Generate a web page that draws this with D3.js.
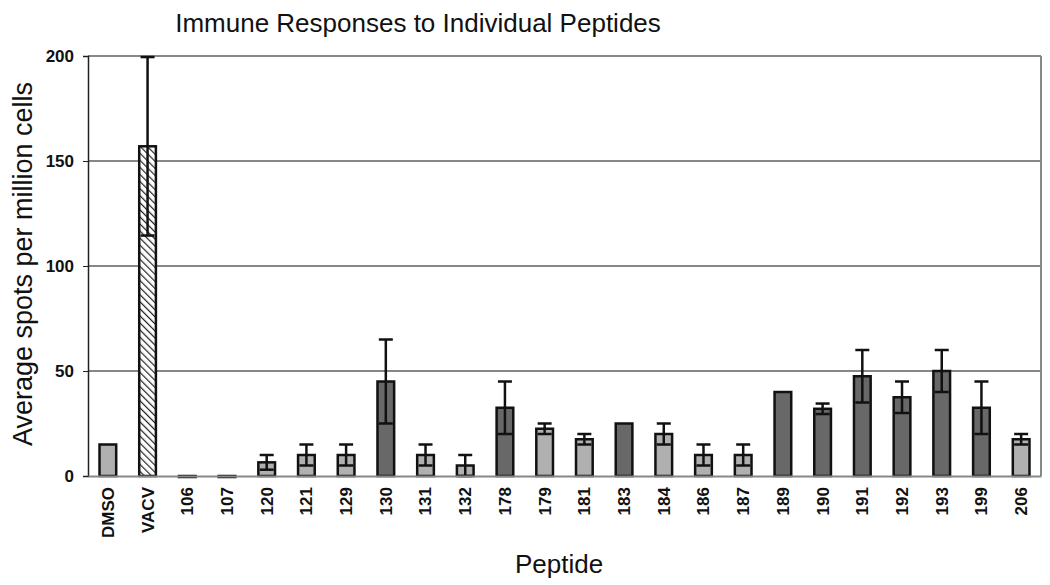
<!DOCTYPE html>
<html>
<head>
<meta charset="utf-8">
<script src="https://cdn.jsdelivr.net/npm/d3@7"></script>
<style>
  body { margin: 0; background: #fff; }
  svg { font-family: "Liberation Sans", Arial, sans-serif; }
</style>
</head>
<body>
<svg id="chart" width="1050" height="585"></svg>
<script>
// peptides along the x axis
var peptides = ["DMSO", "VACV", "106", "107", "120", "121", "129", "130", "131", "132",
    "178", "179", "181", "183", "184", "186", "187", "189", "190", "191", "192", "193", "199", "206"];
// average spots per million cells
var means = [15, 157, 0, 0, 6.5, 10, 10, 45, 10, 5,
    32.5, 22.5, 17.5, 25, 20, 10, 10, 40, 32, 47.5, 37.5, 50, 32.5, 17.5];
// half-width of the error bar (0 = none drawn)
var errors = [0, 42.5, 0, 0, 3.5, 5, 5, 20, 5, 5,
    12.5, 2.5, 2.5, 0, 5, 5, 5, 0, 2.5, 12.5, 7.5, 10, 12.5, 2.5];
// response group, drives the fill
var groups = ["neg", "pos", "weak", "weak", "weak", "weak", "weak", "strong", "weak", "weak",
    "strong", "weak", "weak", "strong", "weak", "weak", "weak", "strong", "strong", "strong", "strong", "strong", "strong", "weak"];
var yTicks = [0, 50, 100, 150, 200];

var data = peptides.map((p, i) => ({ name: p, mean: means[i], err: errors[i], group: groups[i] }));

var svg = d3.select("#chart");
var plotL = 88, plotR = 1041, plotT = 56, plotB = 476;

var x = d3.scaleBand().domain(peptides).range([plotL, plotR]);
var y = d3.scaleLinear().domain([0, 200]).range([plotB, plotT]);
var fill = d3.scaleOrdinal()
    .domain(["neg", "pos", "weak", "strong"])
    .range(["#b0b0b0", "url(#hatch)", "#b0b0b0", "#686868"]);

var defs = svg.append("defs");
var pat = defs.append("pattern")
    .attr("id", "hatch")
    .attr("patternUnits", "userSpaceOnUse")
    .attr("width", 5).attr("height", 5)
    .attr("patternTransform", "rotate(-45)");
pat.append("rect").attr("width", 5).attr("height", 5).attr("fill", "#fff");
pat.append("line").attr("x1", 0).attr("y1", 0).attr("x2", 0).attr("y2", 5)
    .attr("stroke", "#222").attr("stroke-width", 2.4);

// title
svg.append("text")
    .attr("x", 418).attr("y", 32)
    .attr("text-anchor", "middle")
    .attr("font-size", 26)
    .attr("fill", "#111")
    .text("Immune Responses to Individual Peptides");

// gridlines
svg.append("g")
    .selectAll("line")
    .data(yTicks.filter(d => d > 0 && d < 200))
    .enter().append("line")
    .attr("x1", plotL).attr("x2", plotR)
    .attr("y1", d => y(d)).attr("y2", d => y(d))
    .attr("stroke", "#111").attr("stroke-width", 1.2);

// frame top and right
svg.append("line").attr("x1", plotL).attr("x2", plotR).attr("y1", y(200)).attr("y2", y(200))
    .attr("stroke", "#888").attr("stroke-width", 2);
svg.append("line").attr("x1", plotR).attr("x2", plotR).attr("y1", plotT).attr("y2", plotB)
    .attr("stroke", "#888").attr("stroke-width", 2);

// bars
var bw = x.bandwidth() * 0.42;
svg.append("g")
    .selectAll("rect")
    .data(data)
    .enter().append("rect")
    .attr("x", d => x(d.name) + (x.bandwidth() - bw) / 2)
    .attr("y", d => y(d.mean))
    .attr("width", bw)
    .attr("height", d => Math.max(plotB - y(d.mean), 1))
    .attr("fill", d => fill(d.group))
    .attr("stroke", "#111")
    .attr("stroke-width", 2.5);

// error bars
var eb = svg.append("g").attr("stroke", "#111").attr("stroke-width", 2.5);
var withErr = data.filter(d => d.err > 0);
var cx = d => x(d.name) + x.bandwidth() / 2;
eb.selectAll(".stem").data(withErr).enter().append("line")
    .attr("x1", cx).attr("x2", cx)
    .attr("y1", d => y(d.mean + d.err)).attr("y2", d => y(d.mean - d.err));
eb.selectAll(".capT").data(withErr).enter().append("line")
    .attr("x1", d => cx(d) - 7).attr("x2", d => cx(d) + 7)
    .attr("y1", d => y(d.mean + d.err)).attr("y2", d => y(d.mean + d.err));
eb.selectAll(".capB").data(withErr).enter().append("line")
    .attr("x1", d => cx(d) - 7).attr("x2", d => cx(d) + 7)
    .attr("y1", d => y(d.mean - d.err)).attr("y2", d => y(d.mean - d.err));

// y axis
var yAxis = svg.append("g")
    .attr("transform", "translate(" + plotL + ",0)")
    .call(d3.axisLeft(y).tickValues(yTicks).tickSize(5).tickPadding(9));
yAxis.select(".domain").attr("stroke", "#222").attr("stroke-width", 1.5);
yAxis.selectAll(".tick line").attr("stroke", "#222");
yAxis.selectAll("text")
    .attr("font-size", 17).attr("font-weight", "bold").attr("fill", "#111")
    .attr("font-family", "Liberation Sans, Arial, sans-serif");

// x axis
var xAxis = svg.append("g")
    .attr("transform", "translate(0," + plotB + ")")
    .call(d3.axisBottom(x).tickSize(0));
xAxis.select(".domain").attr("stroke", "#888").attr("stroke-width", 2);
xAxis.selectAll("text")
    .attr("font-size", 17).attr("font-weight", "bold").attr("fill", "#111")
    .attr("font-family", "Liberation Sans, Arial, sans-serif")
    .attr("text-anchor", "end")
    .attr("dy", "0.35em")
    .attr("transform", "translate(0,11) rotate(-90)")
    .attr("x", 0).attr("y", 0);

// axis titles
svg.append("text")
    .attr("transform", "translate(32,264) rotate(-90)")
    .attr("text-anchor", "middle")
    .attr("font-size", 27)
    .attr("fill", "#111")
    .text("Average spots per million cells");

svg.append("text")
    .attr("x", 559).attr("y", 573)
    .attr("text-anchor", "middle")
    .attr("font-size", 26)
    .attr("fill", "#111")
    .text("Peptide");
</script>
</body>
</html>
